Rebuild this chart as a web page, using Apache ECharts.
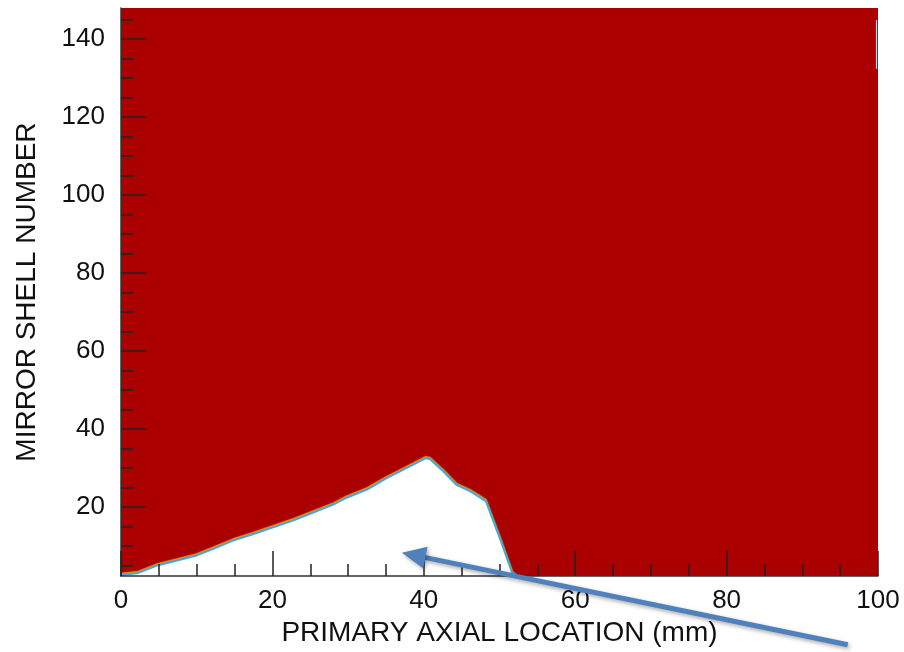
<!DOCTYPE html>
<html>
<head>
<meta charset="utf-8">
<title>Mirror shell coverage</title>
<script src="https://cdn.jsdelivr.net/npm/echarts@6/dist/echarts.min.js"></script>
<style>
  html, body { margin: 0; padding: 0; background: #ffffff; }
  #chart { width: 904px; height: 652px; }
</style>
</head>
<body>
<div id="chart"></div>
<script>
// Axial positions (mm) along the primary, and the shell number where the
// covered (red) region begins at each position.
const axialMm = [0, 2.1, 4.9, 7.4, 10.0, 12.2, 14.8, 17.5, 20.1, 22.8, 25.4, 28.1,
  29.8, 32.5, 35.1, 37.7, 40.2, 40.8, 42.6, 44.3, 46.1, 48.2, 50.1, 51.7, 52.2, 100];
const shellEdge = [2.6, 3.0, 5.1, 6.3, 7.6, 9.3, 11.4, 13.1, 14.8, 16.6, 18.6, 20.7,
  22.4, 24.5, 27.4, 30.0, 32.5, 32.3, 29.1, 25.7, 24.1, 21.5, 11.7, 3.0, 2.3, 2.3];

// Last axial position where the contour edge is visible above the axis.
const edgeEndMm = 52.2;

// Small uncovered strip along the far edge (shell range at 100 mm).
const farEdgeGap = [132.4, 144.9];
const farEdgeX = 99.8;

// Axis ranges and tick values.
const xMin = 0, xMax = 100, xStep = 20;
const yMin = 2.3, yMax = 148;
const yMajorTicks = [20, 40, 60, 80, 100, 120, 140];
const yMinorTicks = [5, 10, 15, 25, 30, 35, 45, 50, 55, 65, 70, 75, 85, 90, 95,
  105, 110, 115, 125, 130, 135, 145];

// Callout arrow, in data units (tail, head).
const calloutTail = [96.0, -15.3];
const calloutHead = [37.1, 8.3];

const FONT = '"Liberation Sans", Arial, Helvetica, sans-serif';
const RED = '#aa0000';
const INK = '#111111';

const fieldData = axialMm.map((x, i) => [x, shellEdge[i]]);
const edgeData = fieldData.filter(p => p[0] <= edgeEndMm);

const chart = echarts.init(document.getElementById('chart'), null, { renderer: 'canvas' });

const yCommon = {
  type: 'value',
  min: yMin,
  max: yMax,
  position: 'left',
  z: 10,
  splitLine: { show: false }
};

chart.setOption({
  animation: false,
  backgroundColor: '#ffffff',
  grid: { left: 121, right: 26, top: 8, bottom: 69, containLabel: false },
  xAxis: {
    type: 'value',
    min: xMin,
    max: xMax,
    interval: xStep,
    z: 10,
    name: 'PRIMARY AXIAL LOCATION (mm)',
    nameLocation: 'middle',
    nameGap: 37,
    nameTextStyle: { fontFamily: FONT, fontSize: 28, color: INK },
    axisLine: { show: true, lineStyle: { color: '#333333', width: 1.5 } },
    axisTick: { show: true, inside: true, length: 25, lineStyle: { color: '#222222', width: 1.5 } },
    minorTick: { show: true, splitNumber: 4, length: 12, lineStyle: { color: '#222222', width: 1.5 } },
    axisLabel: { fontFamily: FONT, fontSize: 26, color: INK, margin: 12 },
    splitLine: { show: false },
    minorSplitLine: { show: false }
  },
  yAxis: [
    Object.assign({}, yCommon, {
      name: 'MIRROR SHELL NUMBER',
      nameLocation: 'middle',
      nameGap: 80,
      nameRotate: 90,
      nameTextStyle: { fontFamily: FONT, fontSize: 28, color: INK },
      axisLine: { show: true, lineStyle: { color: '#333333', width: 1.5 } },
      axisTick: { show: true, inside: true, length: 25, customValues: yMajorTicks,
        lineStyle: { color: '#222222', width: 1.5 } },
      axisLabel: { fontFamily: FONT, fontSize: 26, color: INK, margin: 16, customValues: yMajorTicks }
    }),
    Object.assign({}, yCommon, {
      axisLine: { show: false },
      axisTick: { show: true, inside: true, length: 12, customValues: yMinorTicks,
        lineStyle: { color: '#222222', width: 1.5 } },
      axisLabel: { show: false }
    })
  ],
  series: [
    {
      name: 'covered',
      type: 'line',
      data: fieldData,
      yAxisIndex: 0,
      symbol: 'none',
      silent: true,
      lineStyle: { width: 0, opacity: 0 },
      areaStyle: { color: RED, opacity: 1, origin: 'end' },
      z: 2
    },
    {
      name: 'edge',
      type: 'line',
      data: edgeData,
      yAxisIndex: 0,
      symbol: 'none',
      silent: true,
      lineStyle: {
        color: '#48a6dc', width: 2,
        shadowColor: 'rgba(214, 196, 50, 0.85)', shadowBlur: 1, shadowOffsetY: -1.3
      },
      markLine: {
        silent: true,
        symbol: ['none', 'none'],
        label: { show: false },
        lineStyle: { color: '#9fdcf0', width: 1.2, type: 'solid' },
        data: [[{ coord: [farEdgeX, farEdgeGap[0]] }, { coord: [farEdgeX, farEdgeGap[1]] }]]
      },
      z: 3
    }
  ]
});

// Callout arrow pointing into the uncovered region.
function drawCallout() {
  const p0 = chart.convertToPixel({ xAxisIndex: 0, yAxisIndex: 0 }, calloutTail);
  const p1 = chart.convertToPixel({ xAxisIndex: 0, yAxisIndex: 0 }, calloutHead);
  const dx = p1[0] - p0[0], dy = p1[1] - p0[1];
  const len = Math.sqrt(dx * dx + dy * dy);
  const ux = dx / len, uy = dy / len;
  const nx = -uy, ny = ux;
  const headLen = 24, headHalf = 11;
  const bx = p1[0] - ux * headLen, by = p1[1] - uy * headLen;
  const arrowColor = '#4f81bd';
  const shadow = { shadowColor: 'rgba(0,0,0,0.35)', shadowBlur: 4, shadowOffsetX: 1.5, shadowOffsetY: 2 };
  chart.setOption({
    graphic: [
      {
        type: 'line', z: 100, silent: true,
        shape: { x1: p0[0], y1: p0[1], x2: bx + ux * 2, y2: by + uy * 2 },
        style: Object.assign({ stroke: arrowColor, lineWidth: 5 }, shadow)
      },
      {
        type: 'polygon', z: 100, silent: true,
        shape: { points: [[p1[0], p1[1]], [bx + nx * headHalf, by + ny * headHalf], [bx - nx * headHalf, by - ny * headHalf]] },
        style: Object.assign({ fill: arrowColor }, shadow)
      }
    ]
  });
}
drawCallout();
</script>
</body>
</html>
